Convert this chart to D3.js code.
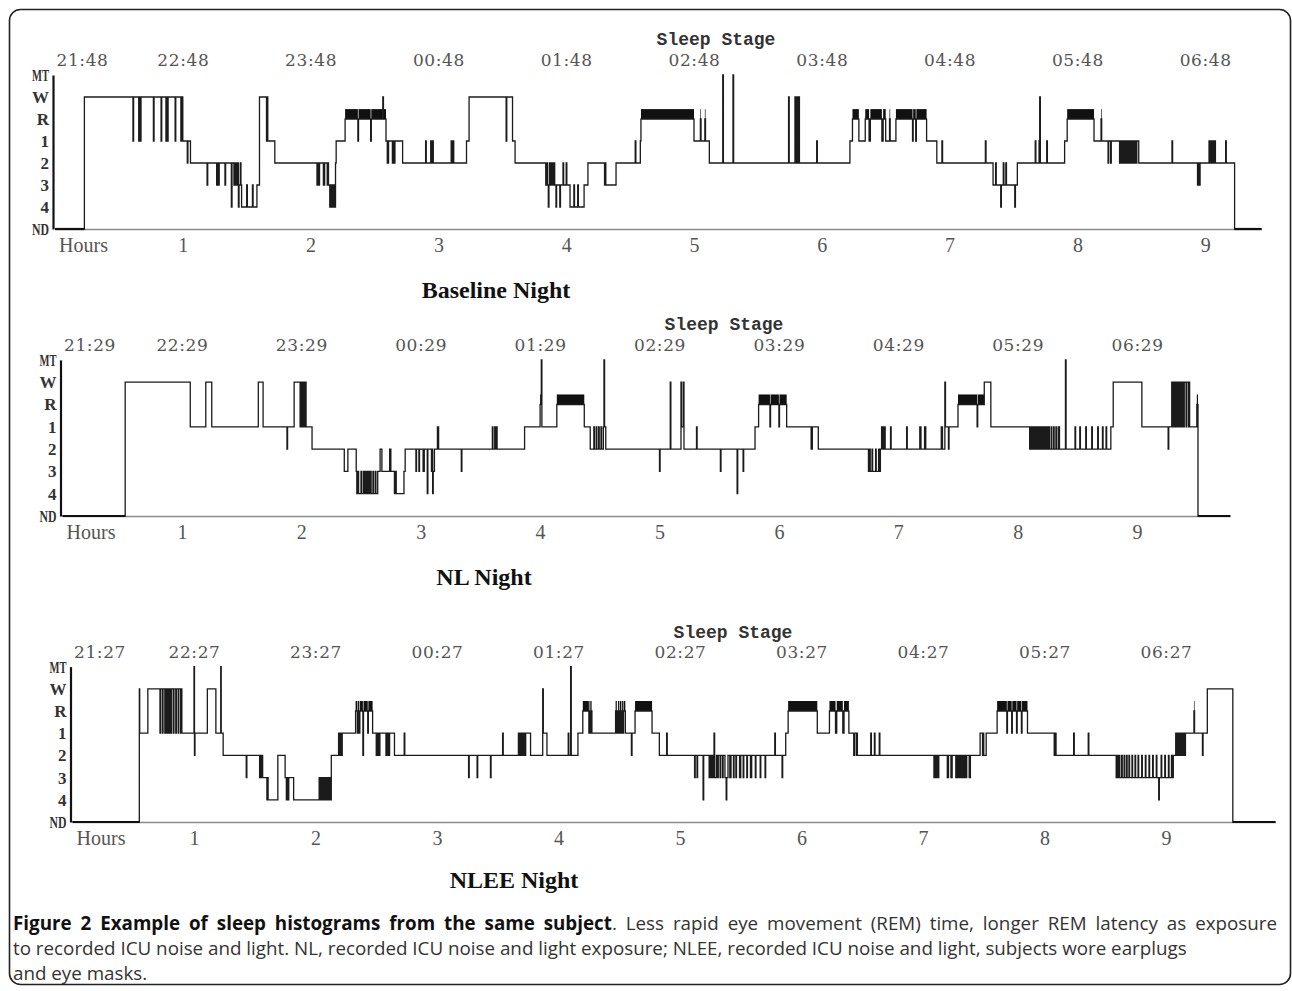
<!DOCTYPE html>
<html>
<head>
<meta charset="utf-8">
<script src="https://cdn.jsdelivr.net/npm/d3@7"></script>
<style>
  body { margin: 0; background: #fff; }
  svg { display: block; }
</style>
</head>
<body>
<div id="container"></div>
<script>
// stage order from bottom (ND) to top (MT)
const stageNames = ["ND", "4", "3", "2", "1", "R", "W", "MT"];
const hourLabels = ["Hours", "1", "2", "3", "4", "5", "6", "7", "8", "9"];
const nightNames = ["Baseline Night", "NL Night", "NLEE Night"];

const baselineClock = ["21:48", "22:48", "23:48", "00:48", "01:48", "02:48", "03:48", "04:48", "05:48", "06:48"];
const nlClock = ["21:29", "22:29", "23:29", "00:29", "01:29", "02:29", "03:29", "04:29", "05:29", "06:29"];
const nleeClock = ["21:27", "22:27", "23:27", "00:27", "01:27", "02:27", "03:27", "04:27", "05:27", "06:27"];

// [hours since start, stage] - each stage holds until the next point
const baselineNight = [
  [0, "ND"], [0.23, "W"],
  [0.61, "1"], [0.615, "W"], [0.655, "1"], [0.66, "W"], [0.668, "1"], [0.673, "W"],
  [0.77, "1"], [0.775, "W"], [0.83, "1"], [0.835, "W"], [0.868, "1"], [0.873, "W"],
  [0.88, "1"], [0.885, "W"], [0.94, "1"], [0.945, "W"], [0.985, "1"], [0.99, "W"],
  [1.0, "1"], [1.035, "2"], [1.04, "1"], [1.06, "2"],
  [1.19, "3"], [1.195, "2"], [1.265, "3"], [1.27, "2"], [1.28, "3"], [1.285, "2"],
  [1.33, "3"], [1.335, "2"], [1.38, "4"], [1.385, "2"], [1.40, "3"], [1.405, "2"],
  [1.41, "3"], [1.415, "2"], [1.42, "3"], [1.43, "2"], [1.435, "4"], [1.44, "3"],
  [1.45, "2"], [1.455, "3"], [1.46, "4"], [1.50, "3"], [1.505, "4"], [1.545, "3"],
  [1.55, "4"], [1.58, "3"], [1.60, "W"], [1.655, "1"], [1.66, "W"], [1.665, "1"],
  [1.72, "2"],
  [2.05, "3"], [2.055, "2"], [2.065, "3"], [2.07, "2"], [2.1, "3"], [2.11, "2"],
  [2.13, "3"], [2.135, "2"], [2.14, "3"], [2.15, "4"], [2.155, "3"], [2.16, "4"],
  [2.17, "3"], [2.175, "4"], [2.18, "3"], [2.185, "4"], [2.195, "2"],
  [2.2, "1"], [2.27, "R"], [2.37, "1"], [2.375, "R"], [2.47, "1"], [2.475, "R"],
  [2.565, "W"], [2.57, "R"], [2.59, "1"], [2.6, "2"], [2.61, "1"], [2.64, "2"],
  [2.645, "1"], [2.655, "2"], [2.66, "1"], [2.72, "2"],
  [2.9, "1"], [2.905, "2"], [2.94, "1"], [2.945, "2"], [2.955, "1"], [2.96, "2"],
  [3.1, "1"], [3.105, "2"], [3.115, "1"], [3.12, "2"],
  [3.22, "1"], [3.24, "W"], [3.53, "1"], [3.535, "W"], [3.58, "1"], [3.6, "2"],
  [3.84, "3"], [3.85, "2"], [3.855, "3"], [3.86, "4"], [3.865, "3"], [3.87, "2"],
  [3.875, "3"], [3.88, "2"], [3.885, "3"], [3.89, "2"], [3.9, "3"], [3.905, "2"],
  [3.91, "3"], [3.92, "4"], [3.925, "3"], [3.95, "4"], [3.955, "3"], [3.975, "2"],
  [3.98, "3"], [4.0, "2"], [4.005, "3"],
  [4.03, "4"], [4.06, "3"], [4.065, "4"], [4.09, "3"], [4.095, "4"], [4.14, "3"],
  [4.17, "2"], [4.3, "3"], [4.305, "2"], [4.31, "3"], [4.39, "2"],
  [4.54, "1"], [4.545, "2"], [4.58, "1"], [4.585, "R"],
  [5.0, "1"], [5.05, "R"], [5.055, "1"], [5.085, "R"], [5.09, "1"], [5.12, "2"],
  [5.225, "MT"], [5.23, "2"], [5.305, "MT"], [5.31, "2"],
  [5.74, "W"], [5.745, "2"], [5.79, "W"], [5.795, "2"], [5.8, "W"], [5.81, "2"],
  [5.815, "W"], [5.825, "2"], [5.96, "1"], [5.965, "2"],
  [6.22, "1"], [6.24, "R"], [6.29, "1"], [6.34, "R"], [6.37, "1"], [6.38, "R"],
  [6.47, "1"], [6.48, "R"], [6.5, "1"], [6.53, "R"], [6.535, "1"], [6.58, "R"],
  [6.71, "1"], [6.715, "R"], [6.735, "1"], [6.74, "R"], [6.82, "1"],
  [6.9, "2"], [6.94, "1"], [6.945, "2"], [7.28, "1"], [7.285, "2"],
  [7.34, "3"], [7.36, "2"], [7.365, "3"], [7.4, "4"], [7.405, "3"], [7.42, "2"],
  [7.425, "3"], [7.44, "2"], [7.445, "3"], [7.51, "4"], [7.515, "3"], [7.53, "2"],
  [7.67, "1"], [7.675, "2"], [7.70, "1"], [7.705, "W"], [7.71, "2"], [7.76, "1"],
  [7.765, "2"], [7.9, "1"], [7.92, "R"],
  [8.13, "1"], [8.185, "R"], [8.19, "1"], [8.24, "2"], [8.245, "1"], [8.26, "2"],
  [8.265, "1"], [8.33, "2"], [8.335, "1"], [8.34, "2"], [8.345, "1"], [8.355, "2"],
  [8.36, "1"], [8.37, "2"], [8.375, "1"], [8.385, "2"], [8.39, "1"], [8.4, "2"],
  [8.405, "1"], [8.415, "2"], [8.42, "1"], [8.43, "2"], [8.435, "1"], [8.445, "2"],
  [8.45, "1"], [8.46, "2"], [8.465, "1"], [8.48, "2"],
  [8.74, "1"], [8.745, "2"], [8.94, "3"], [8.945, "2"], [8.955, "3"], [8.96, "2"],
  [9.03, "1"], [9.035, "2"], [9.04, "1"], [9.05, "2"], [9.055, "1"], [9.065, "2"],
  [9.07, "1"], [9.08, "2"], [9.16, "1"], [9.165, "2"],
  [9.23, "ND"], [9.44, "ND"]
];

const nlNight = [
  [0, "ND"], [0.525, "W"], [1.07, "1"], [1.2, "W"], [1.25, "1"], [1.64, "W"],
  [1.68, "1"], [1.88, "2"], [1.885, "1"],
  [1.94, "W"], [1.99, "1"], [1.995, "W"], [2.0, "1"], [2.005, "W"], [2.01, "1"],
  [2.015, "W"], [2.02, "1"], [2.025, "W"], [2.03, "1"], [2.035, "W"], [2.04, "1"],
  [2.09, "2"], [2.36, "3"], [2.39, "2"],
  [2.46, "3"], [2.465, "4"], [2.475, "3"], [2.48, "4"], [2.5, "3"], [2.505, "4"],
  [2.52, "3"], [2.525, "4"], [2.535, "3"], [2.54, "4"], [2.55, "3"], [2.555, "4"],
  [2.565, "3"], [2.57, "4"], [2.58, "3"], [2.585, "4"], [2.6, "3"], [2.605, "4"],
  [2.62, "3"], [2.625, "4"],
  [2.64, "3"], [2.66, "2"], [2.675, "3"], [2.74, "2"], [2.75, "3"], [2.78, "4"],
  [2.79, "3"], [2.795, "4"], [2.86, "3"], [2.87, "2"],
  [2.96, "3"], [2.965, "2"], [2.985, "3"], [2.99, "2"], [3.02, "3"], [3.03, "2"],
  [3.055, "4"], [3.06, "2"], [3.09, "3"], [3.095, "2"], [3.1, "4"], [3.105, "3"],
  [3.115, "2"], [3.14, "1"], [3.15, "2"], [3.34, "3"], [3.345, "2"],
  [3.6, "1"], [3.605, "2"], [3.62, "1"], [3.625, "2"], [3.635, "1"], [3.64, "2"],
  [3.87, "1"], [4.0, "R"], [4.01, "MT"], [4.015, "1"], [4.14, "R"], [4.37, "1"],
  [4.42, "2"], [4.45, "1"], [4.455, "2"], [4.47, "1"], [4.475, "2"], [4.49, "1"],
  [4.495, "2"], [4.51, "1"], [4.515, "2"], [4.53, "1"], [4.535, "MT"], [4.54, "1"],
  [4.55, "2"],
  [5.0, "3"], [5.005, "2"], [5.09, "W"], [5.095, "2"], [5.18, "W"], [5.185, "1"],
  [5.2, "W"], [5.205, "2"], [5.31, "1"], [5.315, "2"], [5.51, "3"], [5.515, "2"],
  [5.65, "4"], [5.655, "2"], [5.7, "3"], [5.705, "2"],
  [5.8, "1"], [5.83, "R"], [5.925, "1"], [5.93, "R"], [6.0, "1"], [6.005, "R"],
  [6.065, "1"], [6.27, "2"], [6.28, "1"], [6.33, "2"],
  [6.75, "3"], [6.76, "2"], [6.765, "3"], [6.78, "2"], [6.785, "3"], [6.81, "2"],
  [6.815, "3"], [6.835, "2"], [6.84, "3"], [6.85, "2"],
  [6.86, "1"], [6.87, "2"], [6.88, "1"], [6.89, "2"], [6.935, "1"], [6.94, "2"],
  [7.07, "1"], [7.075, "2"], [7.18, "1"], [7.19, "2"], [7.22, "1"], [7.23, "2"],
  [7.36, "1"], [7.37, "2"], [7.39, "W"], [7.395, "1"], [7.42, "2"], [7.425, "1"],
  [7.5, "R"], [7.66, "1"], [7.665, "R"], [7.72, "W"], [7.775, "1"],
  [8.1, "2"], [8.11, "1"], [8.115, "2"], [8.125, "1"], [8.13, "2"], [8.14, "1"],
  [8.145, "2"], [8.155, "1"], [8.16, "2"], [8.17, "1"], [8.175, "2"], [8.185, "1"],
  [8.19, "2"], [8.2, "1"], [8.205, "2"], [8.215, "1"], [8.22, "2"], [8.23, "1"],
  [8.235, "2"], [8.245, "1"], [8.25, "2"], [8.26, "1"], [8.265, "2"], [8.28, "1"],
  [8.285, "2"], [8.3, "1"], [8.305, "2"], [8.32, "1"], [8.325, "2"], [8.34, "1"],
  [8.35, "2"], [8.4, "MT"], [8.405, "2"],
  [8.48, "1"], [8.485, "2"], [8.52, "1"], [8.525, "2"], [8.57, "1"], [8.575, "2"],
  [8.62, "1"], [8.625, "2"], [8.67, "1"], [8.675, "2"], [8.71, "1"], [8.715, "2"],
  [8.74, "1"], [8.745, "2"],
  [8.78, "1"], [8.8, "W"], [9.04, "1"], [9.26, "2"], [9.265, "1"],
  [9.29, "W"], [9.3, "1"], [9.305, "W"], [9.315, "1"], [9.32, "W"], [9.33, "1"],
  [9.335, "W"], [9.345, "1"], [9.35, "W"], [9.36, "1"], [9.365, "W"], [9.375, "1"],
  [9.38, "W"], [9.39, "1"], [9.395, "W"], [9.41, "1"], [9.415, "W"], [9.43, "1"],
  [9.435, "W"], [9.44, "1"], [9.5, "R"], [9.51, "ND"], [9.78, "ND"]
];

const nleeNight = [
  [0, "ND"], [0.55, "W"], [0.553, "1"], [0.62, "W"],
  [0.72, "1"], [0.725, "W"], [0.74, "1"], [0.745, "W"], [0.76, "1"], [0.765, "W"],
  [0.77, "1"], [0.775, "W"], [0.78, "1"], [0.785, "W"], [0.795, "1"], [0.8, "W"],
  [0.81, "1"], [0.815, "W"], [0.83, "1"], [0.835, "W"], [0.85, "1"], [0.855, "W"],
  [0.87, "1"], [0.875, "W"], [0.89, "1"], [0.895, "W"], [0.9, "1"],
  [1.0, "MT"], [1.004, "2"], [1.008, "1"], [1.11, "W"], [1.18, "1"], [1.22, "MT"],
  [1.224, "1"], [1.24, "2"], [1.43, "3"], [1.435, "2"],
  [1.54, "3"], [1.55, "2"], [1.555, "3"], [1.56, "2"], [1.565, "3"], [1.6, "4"],
  [1.605, "3"], [1.61, "4"], [1.69, "2"], [1.75, "3"], [1.76, "4"], [1.765, "3"],
  [1.775, "4"], [1.78, "3"], [1.82, "4"],
  [2.03, "3"], [2.035, "4"], [2.045, "3"], [2.05, "4"], [2.06, "3"], [2.065, "4"],
  [2.075, "3"], [2.08, "4"], [2.09, "3"], [2.095, "4"], [2.105, "3"], [2.11, "4"],
  [2.12, "3"], [2.125, "4"], [2.13, "2"],
  [2.19, "1"], [2.2, "2"], [2.205, "1"], [2.215, "2"], [2.22, "1"],
  [2.33, "R"], [2.345, "1"], [2.35, "R"], [2.36, "1"], [2.365, "R"], [2.39, "2"],
  [2.395, "R"], [2.43, "1"], [2.435, "R"], [2.47, "1"],
  [2.5, "2"], [2.505, "1"], [2.51, "2"], [2.52, "1"], [2.525, "2"], [2.53, "1"],
  [2.58, "2"], [2.585, "1"], [2.59, "2"], [2.6, "1"], [2.605, "2"], [2.61, "1"],
  [2.65, "2"], [2.73, "1"], [2.735, "2"],
  [3.26, "3"], [3.265, "2"], [3.33, "3"], [3.335, "2"], [3.44, "3"], [3.445, "2"],
  [3.54, "1"], [3.545, "2"],
  [3.67, "1"], [3.675, "2"], [3.685, "1"], [3.69, "2"], [3.7, "1"], [3.705, "2"],
  [3.715, "1"], [3.72, "2"], [3.73, "1"], [3.77, "2"],
  [3.87, "W"], [3.875, "1"], [3.905, "2"], [4.08, "1"], [4.085, "2"], [4.1, "MT"],
  [4.105, "2"], [4.16, "1"],
  [4.2, "R"], [4.25, "1"], [4.255, "R"], [4.265, "1"], [4.27, "R"], [4.275, "1"],
  [4.47, "R"], [4.48, "1"], [4.49, "R"], [4.5, "1"], [4.505, "R"], [4.515, "1"],
  [4.52, "R"], [4.53, "1"], [4.535, "R"], [4.55, "1"], [4.6, "2"], [4.605, "1"],
  [4.63, "R"], [4.77, "1"], [4.83, "2"], [4.89, "1"], [4.895, "2"],
  [5.12, "3"], [5.125, "2"], [5.14, "3"], [5.145, "2"], [5.19, "4"], [5.195, "2"],
  [5.24, "3"], [5.245, "2"], [5.255, "3"], [5.26, "2"], [5.27, "3"], [5.275, "2"],
  [5.28, "1"], [5.285, "3"], [5.3, "2"], [5.31, "3"], [5.315, "2"], [5.33, "3"],
  [5.335, "2"], [5.35, "3"], [5.355, "2"], [5.37, "3"], [5.38, "4"], [5.385, "3"],
  [5.395, "2"], [5.41, "3"], [5.42, "2"], [5.44, "3"], [5.445, "2"], [5.46, "3"],
  [5.465, "2"], [5.49, "3"], [5.5, "2"], [5.52, "3"], [5.525, "2"], [5.55, "3"],
  [5.555, "2"], [5.58, "3"], [5.59, "2"], [5.62, "3"], [5.625, "2"], [5.66, "3"],
  [5.665, "2"], [5.7, "3"], [5.705, "2"],
  [5.78, "1"], [5.785, "2"], [5.84, "3"], [5.845, "2"],
  [5.87, "1"], [5.89, "R"], [6.13, "1"], [6.23, "R"], [6.28, "1"], [6.29, "R"],
  [6.34, "1"], [6.35, "R"], [6.39, "1"],
  [6.43, "2"], [6.435, "1"], [6.45, "2"], [6.455, "1"], [6.46, "2"],
  [6.57, "1"], [6.575, "2"], [6.6, "1"], [6.605, "2"], [6.64, "1"], [6.645, "2"],
  [7.09, "3"], [7.1, "2"], [7.105, "3"], [7.115, "2"], [7.12, "3"], [7.13, "2"],
  [7.2, "3"], [7.21, "2"], [7.23, "3"], [7.24, "2"], [7.27, "3"], [7.28, "2"],
  [7.285, "3"], [7.295, "2"], [7.3, "3"], [7.31, "2"], [7.32, "3"], [7.33, "2"],
  [7.335, "3"], [7.345, "2"], [7.35, "3"], [7.36, "2"], [7.38, "3"], [7.39, "2"],
  [7.47, "1"], [7.49, "2"], [7.495, "1"], [7.5, "2"], [7.52, "1"],
  [7.61, "R"], [7.69, "1"], [7.695, "R"], [7.73, "1"], [7.735, "R"], [7.77, "1"],
  [7.775, "R"], [7.81, "1"], [7.815, "R"], [7.86, "1"],
  [8.08, "2"], [8.085, "1"], [8.095, "2"], [8.24, "1"], [8.245, "2"], [8.36, "1"],
  [8.365, "2"],
  [8.59, "3"], [8.6, "2"], [8.605, "3"], [8.615, "2"], [8.62, "3"], [8.635, "2"],
  [8.64, "3"], [8.655, "2"], [8.66, "3"], [8.675, "2"], [8.68, "3"], [8.695, "2"],
  [8.7, "3"], [8.72, "2"], [8.725, "3"], [8.745, "2"], [8.75, "3"], [8.77, "2"],
  [8.775, "3"], [8.8, "2"], [8.805, "3"], [8.83, "2"], [8.835, "3"], [8.86, "2"],
  [8.865, "3"], [8.89, "2"], [8.895, "3"], [8.92, "2"], [8.925, "3"], [8.94, "4"],
  [8.945, "3"], [8.96, "2"], [8.965, "3"], [8.99, "2"], [8.995, "3"], [9.02, "2"],
  [9.025, "3"], [9.045, "2"], [9.05, "3"], [9.06, "2"],
  [9.08, "1"], [9.09, "2"], [9.1, "1"], [9.11, "2"], [9.12, "1"], [9.13, "2"],
  [9.14, "1"], [9.15, "2"], [9.16, "1"],
  [9.23, "R"], [9.235, "1"], [9.3, "2"], [9.305, "1"], [9.34, "W"], [9.55, "ND"],
  [9.9, "ND"]
];

// panel placement on the page
const layout = [
  { clock: baselineClock, data: baselineNight, x0: 55, pxh: 127.8, yND: 229, step: 22,
    clockY: 66, stageTitle: [716, 45], title: [496, 298] },
  { clock: nlClock, data: nlNight, x0: 62.5, pxh: 119.4, yND: 516, step: 22.3,
    clockY: 351, stageTitle: [724, 330], title: [484, 585] },
  { clock: nleeClock, data: nleeNight, x0: 72.5, pxh: 121.5, yND: 822, step: 22.2,
    clockY: 658, stageTitle: [733, 638], title: [514, 888] }
];

const width = 1292;
const height = 991;
const serif = "'Liberation Serif', 'DejaVu Serif', serif";

const svg = d3.create("svg")
    .attr("width", width)
    .attr("height", height)
    .attr("viewBox", [0, 0, width, height]);

svg.append("rect")
    .attr("width", width).attr("height", height)
    .attr("fill", "#fff");

// figure frame
svg.append("rect")
    .attr("x", 9.5).attr("y", 9.5)
    .attr("width", 1281).attr("height", 975)
    .attr("rx", 11)
    .attr("fill", "none")
    .attr("stroke", "#222")
    .attr("stroke-width", 1.6);

layout.forEach((p, i) => drawNight(p, nightNames[i]));

function drawNight(p, name) {
    const end = p.data[p.data.length - 1][0];
    const x = d3.scaleLinear()
        .domain([0, end])
        .range([p.x0, p.x0 + end * p.pxh]);
    const y = d3.scaleLinear()
        .domain([0, stageNames.length - 1])
        .range([p.yND, p.yND - (stageNames.length - 1) * p.step]);

    const pts = p.data.map(d => [d[0], stageNames.indexOf(d[1])]);
    const g = svg.append("g");

    // hours axis along the ND line
    const xAxis = g.append("g")
        .attr("transform", `translate(0,${p.yND})`)
        .call(d3.axisBottom(x)
            .tickValues(d3.range(hourLabels.length))
            .tickFormat((d, j) => hourLabels[j])
            .tickSize(0)
            .tickPadding(9));
    xAxis.select(".domain").attr("stroke", "#8a8a8a").attr("stroke-width", 1.6);
    xAxis.selectAll("text")
        .attr("font-family", serif)
        .attr("font-size", 20)
        .attr("fill", "#555")
        .attr("dx", (d, j) => j === 0 ? 28 : 0);

    // clock axis on top, no line
    const clockAxis = g.append("g")
        .attr("transform", `translate(0,${p.clockY})`)
        .call(d3.axisTop(x)
            .tickValues(d3.range(p.clock.length))
            .tickFormat((d, j) => p.clock[j])
            .tickSize(0)
            .tickPadding(0));
    clockAxis.select(".domain").remove();
    clockAxis.selectAll("text")
        .attr("font-family", "'DejaVu Serif', serif")
        .attr("font-size", 17)
        .attr("letter-spacing", 0.6)
        .attr("fill", "#555")
        .attr("dx", (d, j) => j === 0 ? 27 : 0);

    // stage axis
    const yAxis = g.append("g")
        .attr("transform", `translate(${p.x0 - 2},0)`)
        .call(d3.axisLeft(y)
            .tickValues(d3.range(stageNames.length))
            .tickFormat(d => stageNames[d])
            .tickSize(0)
            .tickPadding(4));
    yAxis.select(".domain").attr("stroke", "#111").attr("stroke-width", 2.2);
    yAxis.selectAll("text")
        .attr("font-family", serif)
        .attr("font-weight", "bold")
        .attr("font-size", 17)
        .attr("fill", "#333")
        .attr("textLength", d => stageNames[d].length > 1 ? 17 : null)
        .attr("lengthAdjust", "spacingAndGlyphs");

    // REM drawn as a thick bar sitting on the R level
    const remIdx = stageNames.indexOf("R");
    const remSegs = d3.pairs(pts).filter(([a]) => a[1] === remIdx);
    g.append("g")
        .selectAll("rect")
        .data(remSegs)
        .join("rect")
        .attr("x", ([a]) => x(a[0]))
        .attr("width", ([a, b]) => x(b[0]) - x(a[0]))
        .attr("y", y(remIdx) - p.step * 0.45)
        .attr("height", p.step * 0.45)
        .attr("fill", "#111");

    // hypnogram step line
    const line = d3.line()
        .x(d => x(d[0]))
        .y(d => y(d[1]))
        .curve(d3.curveStepAfter);
    g.append("path")
        .datum(pts)
        .attr("d", line)
        .attr("fill", "none")
        .attr("stroke", "#1b1b1b")
        .attr("stroke-width", 1.3);

    // thicker ND stretches at the start and end
    const ndSegs = d3.pairs(pts).filter(([a]) => a[1] === 0);
    g.append("g")
        .selectAll("line")
        .data(ndSegs)
        .join("line")
        .attr("x1", ([a]) => x(a[0]))
        .attr("x2", ([a, b]) => x(b[0]))
        .attr("y1", y(0))
        .attr("y2", y(0))
        .attr("stroke", "#111")
        .attr("stroke-width", 2.2);

    g.append("text")
        .attr("x", p.stageTitle[0])
        .attr("y", p.stageTitle[1])
        .attr("text-anchor", "middle")
        .attr("font-family", "'Liberation Mono', monospace")
        .attr("font-weight", "bold")
        .attr("font-size", 18)
        .attr("fill", "#333")
        .text("Sleep Stage");

    g.append("text")
        .attr("x", p.title[0])
        .attr("y", p.title[1])
        .attr("text-anchor", "middle")
        .attr("font-family", serif)
        .attr("font-weight", "bold")
        .attr("font-size", 24)
        .attr("fill", "#111")
        .text(name);
}

// caption
const cap = svg.append("g")
    .attr("font-family", "'Open Sans', sans-serif")
    .attr("font-size", 18.8)
    .attr("fill", "#333");

const line1 = cap.append("text").attr("x", 13).attr("y", 930);
line1.append("tspan")
    .attr("font-weight", "bold")
    .attr("fill", "#111")
    .text("Figure 2 Example of sleep histograms from the same subject");
line1.append("tspan")
    .text(". Less rapid eye movement (REM) time, longer REM latency as exposure");

cap.append("text").attr("x", 13).attr("y", 955)
    .text("to recorded ICU noise and light. NL, recorded ICU noise and light exposure; NLEE, recorded ICU noise and light, subjects wore earplugs");
cap.append("text").attr("x", 13).attr("y", 980)
    .text("and eye masks.");

document.getElementById("container").appendChild(svg.node());

// justify the first caption line by widening word gaps
const natural = line1.node().getComputedTextLength();
const spaces = (line1.text().match(/ /g) || []).length;
const gap = (1264 - natural) / spaces;
if (gap > 0) line1.attr("word-spacing", gap);
</script>
</body>
</html>
